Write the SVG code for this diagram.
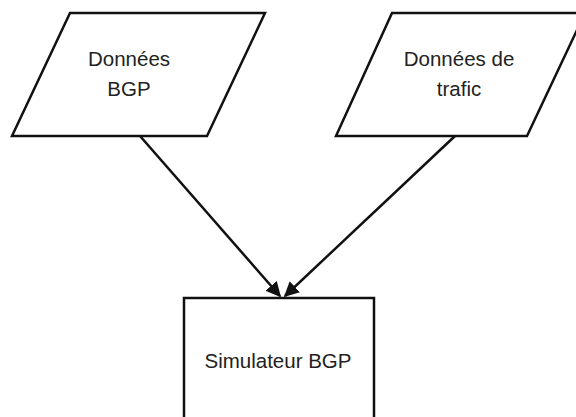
<svg xmlns="http://www.w3.org/2000/svg" width="576" height="417" viewBox="0 0 576 417">
  <style>
    .shape { fill: #ffffff; stroke: #111111; stroke-width: 2.5; stroke-linejoin: miter; }
    .label { font-family: "Liberation Sans", Arial, Helvetica, sans-serif; font-size: 20.5px; fill: #222222; text-anchor: middle; }
    .edge { stroke: #111111; stroke-width: 2.5; fill: none; }
  </style>
  <defs>
    <marker id="arrow" viewBox="0 0 10 10" refX="9" refY="5" markerWidth="6" markerHeight="6" markerUnits="strokeWidth" orient="auto">
      <path d="M0,0 L10,5 L0,10 z" fill="#111111"/>
    </marker>
  </defs>
  <rect width="576" height="417" fill="#ffffff"/>

  <g id="bgp-data">
    <polygon class="shape" points="70,13 265,13 207,136 12,136"/>
    <text class="label" x="129" y="66">Données</text>
    <text class="label" x="129" y="96">BGP</text>
  </g>

  <g id="traffic-data">
    <polygon class="shape" points="392,13 585,13 527,136 336,136"/>
    <text class="label" x="459" y="66">Données de</text>
    <text class="label" x="459" y="96">trafic</text>
  </g>

  <g id="simulator">
    <rect class="shape" x="184" y="298" width="190" height="140"/>
    <text class="label" x="278" y="368">Simulateur BGP</text>
  </g>

  <g id="connectors">
    <line class="edge" x1="140" y1="136" x2="280" y2="296" marker-end="url(#arrow)"/>
    <line class="edge" x1="455" y1="136" x2="285" y2="296" marker-end="url(#arrow)"/>
  </g>
</svg>
